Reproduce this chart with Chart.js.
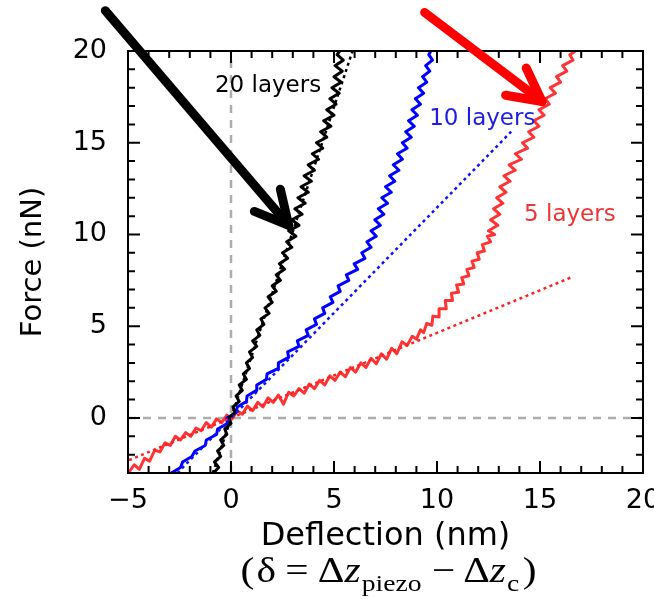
<!DOCTYPE html>
<html>
<head>
<meta charset="utf-8">
<script src="https://cdn.jsdelivr.net/npm/chart.js@4.4.0/dist/chart.umd.min.js"></script>
<style>
    html, body { margin: 0; padding: 0; background: #fff; }
</style>
</head>
<body>
<canvas id="grafico" width="654" height="599"></canvas>
<script>
/***************************************************
*
*   DATOS  [x = deflexion nm, y = fuerza nN]
*
****************************************************/

const ticksX = [-5, 0, 5, 10, 15, 20];
const ticksY = [0, 5, 10, 15, 20];

// 20 capas (negro)
const capas20 = [[-0.85,-3.0],[-0.6,-2.7],[-0.8,-2.4],[-0.5,-2.1],[-0.65,-1.8],[-0.35,-1.5],[-0.5,-1.2],[-0.2,-0.9],
    [-0.3,-0.6],[0.0,-0.3],[-0.1,0.0],[0.2,0.3],[0.1,0.6],[0.4,0.9],[0.25,1.2],[0.55,1.5],[0.4,1.8],[0.75,2.1],
    [0.6,2.4],[0.9,2.7],[0.75,3.0],[1.05,3.3],[0.9,3.6],[1.25,3.9],[1.05,4.2],[1.4,4.5],[1.25,4.8],[1.6,5.1],
    [1.45,5.4],[1.85,5.7],[1.65,6.0],[2.0,6.3],[1.8,6.6],[2.2,6.9],[2.0,7.2],[2.4,7.5],[2.2,7.8],[2.6,8.1],
    [2.35,8.4],[2.75,8.7],[2.5,9.0],[2.95,9.3],[2.7,9.6],[3.15,9.9],[2.8,10.2],[3.3,10.5],[2.95,10.8],[3.45,11.1],
    [3.1,11.4],[3.6,11.7],[3.25,12.0],[3.75,12.3],[3.4,12.6],[3.9,12.9],[3.55,13.2],[4.05,13.5],[3.75,13.8],
    [4.25,14.1],[3.95,14.4],[4.45,14.7],[4.15,15.0],[4.65,15.3],[4.35,15.6],[4.85,15.9],[4.5,16.2],[5.0,16.5],
    [4.65,16.8],[5.1,17.1],[4.8,17.4],[5.25,17.7],[4.9,18.0],[5.35,18.3],[5.0,18.6],[5.4,18.9],[5.05,19.2],
    [5.45,19.5],[5.15,19.8],[5.35,20.1]];

// 10 capas (azul)
const capas10 = [[-2.9,-3.0],[-2.45,-2.7],[-2.35,-2.4],[-1.9,-2.1],[-1.75,-1.8],[-1.25,-1.5],[-1.2,-1.2],[-0.7,-0.9],
    [-0.65,-0.6],[-0.18,-0.3],[-0.2,0.0],[0.25,0.3],[0.3,0.6],[0.75,0.9],[0.78,1.2],[1.22,1.5],[1.25,1.8],[1.72,2.1],
    [1.75,2.4],[2.3,2.7],[2.3,3.0],[2.8,3.3],[2.75,3.6],[3.3,3.9],[3.22,4.2],[3.75,4.5],[3.65,4.8],[4.15,5.1],
    [4.05,5.4],[4.55,5.7],[4.45,6.0],[4.95,6.3],[4.82,6.6],[5.3,6.9],[5.2,7.2],[5.72,7.5],[5.6,7.8],[6.15,8.1],
    [5.98,8.4],[6.5,8.7],[6.35,9.0],[6.8,9.3],[6.6,9.6],[7.05,9.9],[6.8,10.2],[7.25,10.5],[6.98,10.8],[7.42,11.1],
    [7.15,11.4],[7.6,11.7],[7.32,12.0],[7.78,12.3],[7.5,12.6],[7.95,12.9],[7.7,13.2],[8.15,13.5],[7.88,13.8],
    [8.32,14.1],[8.08,14.4],[8.55,14.7],[8.32,15.0],[8.75,15.3],[8.48,15.6],[8.9,15.9],[8.62,16.2],[9.05,16.5],
    [8.78,16.8],[9.2,17.1],[8.95,17.4],[9.35,17.7],[9.1,18.0],[9.5,18.3],[9.3,18.6],[9.65,18.9],[9.45,19.2],
    [9.78,19.5],[9.6,19.8],[9.75,20.1]];

// 5 capas (rojo)
const capas5 = [[-4.95,-2.95],[-4.7,-2.55],[-4.45,-2.8],[-4.2,-2.2],[-3.95,-2.35],[-3.7,-1.75],[-3.45,-1.85],
    [-3.2,-1.35],[-2.95,-1.5],[-2.7,-1.0],[-2.45,-1.2],[-2.2,-0.8],[-1.95,-1.0],[-1.7,-0.55],[-1.45,-0.7],
    [-1.2,-0.25],[-0.95,-0.5],[-0.7,-0.05],[-0.45,-0.25],[-0.2,0.15],[0.05,-0.05],[0.3,0.4],[0.55,0.2],[0.8,0.65],
    [1.05,0.4],[1.3,0.85],[1.55,0.6],[1.8,1.1],[2.05,0.85],[2.3,1.25],[2.55,0.75],[2.8,1.4],[3.05,1.2],[3.3,1.6],
    [3.55,1.35],[3.8,1.85],[4.05,1.6],[4.3,2.05],[4.55,1.8],[4.8,2.3],[5.05,2.05],[5.3,2.5],[5.55,2.25],[5.8,2.75],
    [6.05,2.5],[6.3,3.0],[6.55,2.75],[6.8,3.25],[7.05,2.95],[7.3,3.5],[7.55,3.2],[7.8,3.8],[8.05,3.5],[8.3,4.15],
    [8.55,3.95],[8.8,4.45],[9.0,4.3],[9.2,4.8],[9.35,4.65],[9.5,5.15],[9.75,5.05],[9.8,5.55],[10.1,5.5],
    [10.1,5.95],[10.45,5.95],[10.4,6.4],[10.75,6.4],[10.7,6.8],[11.05,6.85],[10.95,7.25],[11.3,7.3],[11.2,7.65],
    [11.55,7.75],[11.45,8.1],[11.8,8.2],[11.7,8.55],[12.05,8.65],[11.95,9.0],[12.3,9.1],[12.2,9.45],[12.6,9.6],
    [12.45,9.9],[12.8,10.0],[12.5,10.2],
    [12.95,10.5],[12.6,10.8],[13.05,11.1],[12.75,11.4],[13.2,11.7],[12.9,12.0],[13.35,12.3],[13.05,12.6],
    [13.55,12.9],[13.25,13.2],[13.8,13.5],[13.5,13.8],[14.1,14.1],[13.8,14.4],[14.4,14.7],[14.15,15.0],[14.7,15.3],
    [14.45,15.6],[14.95,15.9],[14.7,16.2],[15.2,16.5],[14.95,16.8],[15.45,17.1],[15.25,17.4],[15.75,17.7],
    [15.5,18.0],[16.0,18.3],[15.8,18.6],[16.3,18.9],[16.1,19.2],[16.6,19.5],[16.45,19.8],[16.85,20.1]];

// ajustes lineales (punteados)
const ajuste20 = [[-0.88,-3.0],[5.9,20.0]];
const ajuste10 = [[-2.6,-3.0],[13.6,15.6]];
const ajuste5 = [[-4.95,-2.3],[16.6,7.7]];

// lineas de cero
const ceroX = [[0,-3],[0,20]];
const ceroY = [[-5,0],[20,0]];

// etiquetas y flechas (coordenadas de datos)
const etiquetas = [
    {texto: "20 layers", x: 1.8, y: 18.1, color: "#000000"},
    {texto: "10 layers", x: 12.2, y: 16.3, color: "#1e1ee0"},
    {texto: "5 layers", x: 16.45, y: 11.05, color: "#ee3535"}
];
const flechas = [
    {desde: [-6.1, 22.2], hasta: [2.8, 10.5], color: "#000000"},
    {desde: [9.4, 22.1], hasta: [15.1, 17.25], color: "#ff0000"}
];

/***************************************************
*
*   FUNCIONES
*
****************************************************/

function puntos(pares) {
    return pares.map(p => ({x: p[0], y: p[1]}));
}

function serie(pares, color, ancho, guiones) {
    return {
        data: puntos(pares),
        borderColor: color,
        borderWidth: ancho,
        borderDash: guiones || [],
        showLine: true,
        pointRadius: 0,
        tension: 0,
        fill: false,
        clip: 0,
        borderJoinStyle: "round"
    };
}

function etiquetaTick(v, lista) {
    if (!lista.includes(v)) return "";
    return v < 0 ? "\u2212" + Math.abs(v) : String(v);
}

function flecha(ctx, x1, y1, x2, y2, color) {
    const ang = Math.atan2(y2 - y1, x2 - x1);
    const largo = 37, abre = 0.48;
    ctx.strokeStyle = color;
    ctx.lineWidth = 9;
    ctx.lineCap = "round";
    ctx.lineJoin = "round";
    ctx.setLineDash([]);
    ctx.beginPath();
    ctx.moveTo(x1, y1);
    ctx.lineTo(x2, y2);
    ctx.stroke();
    ctx.beginPath();
    ctx.moveTo(x2 - largo * Math.cos(ang - abre), y2 - largo * Math.sin(ang - abre));
    ctx.lineTo(x2, y2);
    ctx.lineTo(x2 - largo * Math.cos(ang + abre), y2 - largo * Math.sin(ang + abre));
    ctx.stroke();
}

// subtitulo: (δ = Δz_piezo − Δz_c)
function subtitulo(ctx, cx, base) {
    const piezas = [
        ["(", "36px", 0, 2], ["\u03b4", "36px", 0, 8], ["=", "36px", 0, 8], ["\u0394", "36px", 0, 0],
        ["z", "italic 36px", 0, 1], ["piezo", "24px", 9, 9], ["\u2212", "36px", 0, 7], ["\u0394", "36px", 0, 0],
        ["z", "italic 36px", 0, 1], ["c", "24px", 9, 3], [")", "36px", 0, 0]
    ];
    ctx.save();
    ctx.fillStyle = "#000";
    ctx.textBaseline = "alphabetic";
    ctx.textAlign = "left";
    let total = 0;
    piezas.forEach(p => {
        ctx.font = p[1] + ' "Liberation Serif", serif';
        total += ctx.measureText(p[0]).width + p[3];
    });
    ctx.translate(cx, base);
    ctx.scale(1.15, 1);
    let x = -total / 2;
    piezas.forEach(p => {
        ctx.font = p[1] + ' "Liberation Serif", serif';
        ctx.fillText(p[0], x, p[2]);
        x += ctx.measureText(p[0]).width + p[3];
    });
    ctx.restore();
}

const marco = {
    id: "marco",
    afterDatasetsDraw(chart) {
        const {ctx, chartArea: a, scales: {x, y}} = chart;
        ctx.save();
        ctx.strokeStyle = "#000";
        ctx.lineWidth = 2;
        ctx.setLineDash([]);
        ctx.strokeRect(a.left, a.top, a.right - a.left, a.bottom - a.top);
        ctx.beginPath();
        x.ticks.forEach(t => {
            const px = x.getPixelForValue(t.value);
            const l = ticksX.includes(t.value) ? 12 : 7;
            ctx.moveTo(px, a.bottom); ctx.lineTo(px, a.bottom - l);
            ctx.moveTo(px, a.top); ctx.lineTo(px, a.top + l);
        });
        y.ticks.forEach(t => {
            const py = y.getPixelForValue(t.value);
            const l = ticksY.includes(t.value) ? 12 : 7;
            ctx.moveTo(a.left, py); ctx.lineTo(a.left + l, py);
            ctx.moveTo(a.right, py); ctx.lineTo(a.right - l, py);
        });
        ctx.stroke();

        ctx.font = '23px "DejaVu Sans", sans-serif';
        ctx.textAlign = "center";
        ctx.textBaseline = "middle";
        etiquetas.forEach(e => {
            ctx.fillStyle = e.color;
            ctx.fillText(e.texto, x.getPixelForValue(e.x), y.getPixelForValue(e.y));
        });

        flechas.forEach(f => {
            flecha(ctx, x.getPixelForValue(f.desde[0]), y.getPixelForValue(f.desde[1]),
                x.getPixelForValue(f.hasta[0]), y.getPixelForValue(f.hasta[1]), f.color);
        });
        ctx.restore();

        subtitulo(ctx, (a.left + a.right) / 2 + 3, 582);
    }
};

/*********************************************
*
*       FUNCION PARA GRAFICAR
*
**********************************************/

function graficar(id) {
    Chart.defaults.font.family = '"DejaVu Sans", sans-serif';
    Chart.defaults.color = "#000";

    const ctx = document.getElementById(id);
    new Chart(ctx, {
        type: "scatter",
        data: {
            datasets: [
                serie(ajuste20, "#000000", 2.5, [3, 3.5]),
                serie(ajuste10, "#1010ff", 2.5, [3, 3.5]),
                serie(ajuste5, "#ff2020", 2.5, [3, 3.5]),
                serie(capas20, "#000000", 3),
                serie(capas10, "#0000ff", 3),
                serie(capas5, "#ff3333", 3),
                serie(ceroX, "#adadad", 2.5, [8, 7]),
                serie(ceroY, "#adadad", 2.5, [8, 7])
            ]
        },
        options: {
            responsive: false,
            animation: false,
            events: [],
            layout: {padding: {top: 51, right: 11, bottom: 0, left: 0}},
            plugins: {
                legend: {display: false},
                tooltip: {enabled: false}
            },
            scales: {
                x: {
                    type: "linear",
                    min: -5, max: 20,
                    grid: {display: false},
                    border: {display: false},
                    ticks: {
                        stepSize: 1,
                        autoSkip: false,
                        maxRotation: 0,
                        padding: 4,
                        font: {size: 27},
                        callback: v => etiquetaTick(v, ticksX)
                    },
                    title: {
                        display: true,
                        text: "Deflection (nm)",
                        font: {size: 32},
                        padding: {top: 0, bottom: 43}
                    },
                    afterFit: s => { s.height = 126; s.paddingLeft = 0; s.paddingRight = 0; }
                },
                y: {
                    type: "linear",
                    min: -3, max: 20,
                    grid: {display: false},
                    border: {display: false},
                    ticks: {
                        stepSize: 1,
                        autoSkip: false,
                        padding: 13,
                        font: {size: 27},
                        callback: v => etiquetaTick(v, ticksY)
                    },
                    title: {
                        display: true,
                        text: "Force (nN)",
                        font: {size: 29},
                        padding: {top: 16, bottom: 0}
                    },
                    afterFit: s => { s.width = 128; s.paddingTop = 0; s.paddingBottom = 0; }
                }
            }
        },
        plugins: [marco]
    });
}

graficar("grafico");
</script>
</body>
</html>
